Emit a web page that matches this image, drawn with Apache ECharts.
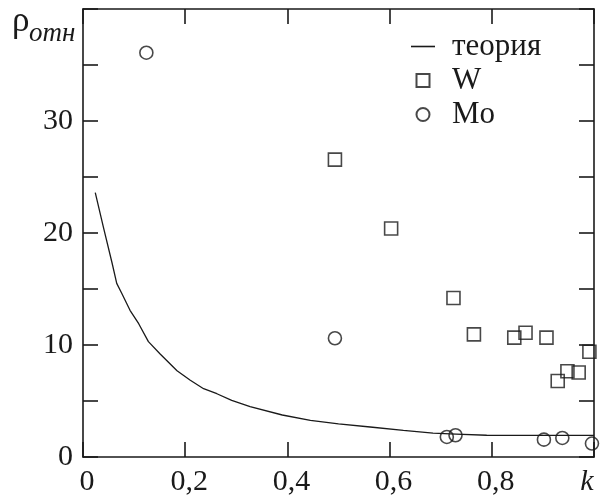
<!DOCTYPE html>
<html>
<head>
<meta charset="utf-8">
<script src="https://cdn.jsdelivr.net/npm/echarts@6/dist/echarts.min.js"></script>
<style>
html,body{margin:0;padding:0;background:#fff;}
#c{width:602px;height:499px;}
</style>
</head>
<body>
<div id="c"></div>
<script>
// theory curve
const theoryK = [0.024,0.04,0.057,0.066,0.076,0.092,0.109,0.128,0.151,0.184,0.21,0.236,0.262,0.291,0.327,0.39,0.445,0.5,0.562,0.627,0.685,0.73,0.79,0.9,1.0];
const theoryV = [23.6,20.5,17.3,15.5,14.6,13.1,11.9,10.3,9.2,7.7,6.85,6.1,5.65,5.05,4.5,3.75,3.27,2.95,2.68,2.38,2.14,2.05,1.94,1.93,1.93];
// W (squares)
const wK = [0.493,0.603,0.725,0.765,0.844,0.866,0.907,0.929,0.948,0.970,0.991];
const wV = [26.55,20.4,14.2,10.95,10.66,11.1,10.66,6.79,7.65,7.54,9.4];
// Mo (circles)
const moK = [0.124,0.493,0.712,0.729,0.902,0.938,0.996];
const moV = [36.1,10.6,1.79,1.94,1.55,1.70,1.2];
// axis ticks
const xTickLabels = {0:'0',0.2:'0,2',0.4:'0,4',0.6:'0,6',0.8:'0,8'};
const yTickLabels = {0:'0',10:'10',20:'20',30:'30'};
const names = ['теория','W','Mo'];

const FONT = "'Liberation Serif','Times New Roman',serif";
const INK = '#1a1a1a';
const zip = (a,b)=>a.map((v,i)=>[v,b[i]]);

const chart = echarts.init(document.getElementById('c'));
const axLine = ()=>({show:true, onZero:false, lineStyle:{color:INK, width:1.6}});
const tick = ()=>({show:true, inside:true, length:15, lineStyle:{color:INK, width:1.6}});
chart.setOption({
  animation:false,
  backgroundColor:'#fff',
  grid:{left:83, right:8, top:9, bottom:42},
  xAxis:[{
    type:'value', min:0, max:1, interval:0.2, position:'bottom',
    axisLine:axLine(), axisTick:tick(), splitLine:{show:false},
    axisLabel:{
      margin:10, color:INK, fontFamily:FONT, fontSize:30, padding:[0,0,0,8],
      formatter:(v)=>{ const r=Math.round(v*10)/10; if(r===1) return '{k|k}'; return xTickLabels[r]!==undefined?xTickLabels[r]:''; },
      rich:{k:{fontStyle:'italic', fontFamily:FONT, fontSize:30, color:INK, padding:[0,22,0,0]}}
    }
  },{
    type:'value', min:0, max:1, interval:0.2, position:'top',
    axisLine:axLine(), axisTick:tick(), axisLabel:{show:false}, splitLine:{show:false}
  }],
  yAxis:[{
    type:'value', min:0, max:40, interval:5, position:'left',
    axisLine:axLine(), axisTick:tick(), splitLine:{show:false},
    axisLabel:{
      margin:10, color:INK, fontFamily:FONT, fontSize:30,
      formatter:(v)=> yTickLabels[v]!==undefined?yTickLabels[v]:''
    }
  },{
    type:'value', min:0, max:40, interval:5, position:'right',
    axisLine:axLine(), axisTick:tick(), axisLabel:{show:false}, splitLine:{show:false}
  }],
  legend:{
    orient:'vertical', left:406, top:26, itemWidth:24, itemHeight:13, itemGap:3,
    selectedMode:false,
    textStyle:{fontFamily:FONT, fontSize:31, color:INK, lineHeight:30, padding:[0,0,0,12]},
    data:[
      {name:names[0], icon:'path://M0,0L24,0L24,1.6L0,1.6Z', itemStyle:{color:INK, borderWidth:0}},
      {name:names[1], icon:'path://M0,0L10,0L10,10L0,10Z'},
      {name:names[2], icon:'circle'}
    ]
  },
  graphic:[
    {type:'text', style:{text:'ρ', x:12, y:22, font:"35px "+FONT, fill:INK, verticalAlign:'middle'}},
    {type:'text', style:{text:'отн', x:29, y:34, font:"italic 27px "+FONT, fill:INK, verticalAlign:'middle'}}
  ],
  series:[{
    name:names[0], type:'line', data:zip(theoryK,theoryV), symbol:'none', showSymbol:false, smooth:false,
    lineStyle:{color:INK, width:1.3}, itemStyle:{color:INK}, clip:true, z:2
  },{
    name:names[1], type:'scatter', data:zip(wK,wV), symbol:'rect', symbolSize:13, clip:true,
    itemStyle:{color:'transparent', borderColor:INK, borderWidth:1.6}, z:3
  },{
    name:names[2], type:'scatter', data:zip(moK,moV), symbol:'circle', symbolSize:13, clip:true,
    itemStyle:{color:'transparent', borderColor:INK, borderWidth:1.6}, z:3
  }]
});
</script>
</body>
</html>
